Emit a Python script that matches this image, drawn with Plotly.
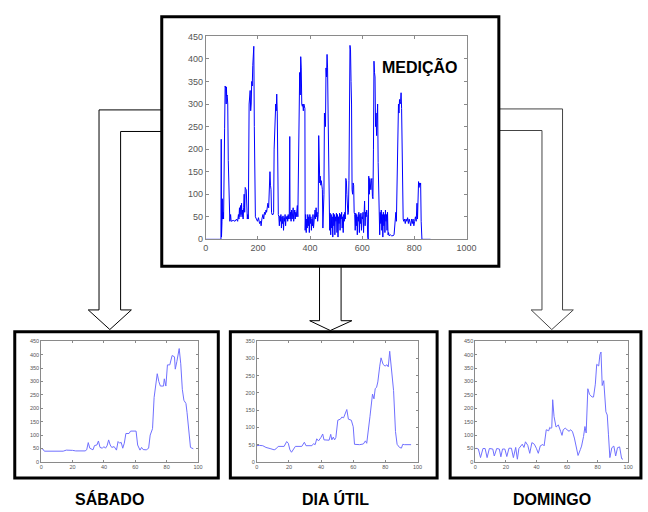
import plotly.graph_objects as go

# ---------------- data ----------------
main_x = [
    0, 58, 59, 60, 61, 62, 63, 64, 66, 68,
    70, 72, 74, 76, 78, 79, 80, 82, 84, 86,
    88, 90, 92, 95, 97, 105, 112, 118, 122, 125,
    127, 129, 131, 133, 135, 137, 139, 141, 143, 145,
    147, 149, 151, 153, 155, 157, 159, 161, 163, 166,
    168, 170, 172, 174, 176, 178, 180, 182, 184, 186,
    188, 190, 194, 198, 202, 206, 210, 212, 215, 219,
    222, 225, 228, 231, 233, 235, 238, 241, 244, 246,
    248, 250, 252, 254, 258, 260, 262, 264, 266, 268,
    270, 272, 274, 276, 278, 280, 282, 284, 286, 288,
    290, 292, 294, 296, 298, 300, 302, 304, 306, 308,
    310, 312, 314, 316, 318, 320, 322, 323, 325, 327,
    329, 331, 333, 335, 337, 339, 341, 343, 345, 347,
    349, 351, 353, 356, 358, 360, 362, 364, 366, 368,
    370, 372, 374, 376, 378, 380, 381, 383, 385, 387,
    389, 391, 393, 395, 397, 399, 401, 403, 405, 407,
    409, 411, 413, 415, 417, 419, 421, 423, 425, 427,
    429, 431, 433, 435, 437, 439, 441, 443, 445, 447,
    449, 451, 453, 455, 457, 459, 461, 463, 465, 467,
    469, 471, 473, 475, 477, 479, 481, 483, 485, 487,
    489, 491, 493, 495, 497, 499, 501, 503, 505, 507,
    509, 511, 513, 515, 517, 519, 521, 523, 525, 527,
    529, 531, 533, 535, 537, 539, 541, 543, 545, 547,
    549, 551, 553, 555, 557, 559, 561, 563, 565, 567,
    569, 571, 573, 575, 577, 579, 581, 583, 585, 587,
    589, 591, 593, 595, 597, 599, 601, 603, 605, 607,
    609, 611, 613, 615, 617, 619, 621, 623, 625, 627,
    629, 631, 633, 635, 637, 639, 641, 643, 645, 647,
    649, 651, 653, 655, 657, 659, 661, 663, 665, 667,
    669, 671, 673, 675, 677, 679, 681, 683, 685, 687,
    689, 691, 693, 695, 697, 699, 701, 703, 708, 712,
    718, 722, 725, 727, 729, 731, 733, 735, 737, 739,
    741, 743, 745, 747, 749, 751, 753, 755, 757, 759,
    762, 765, 768, 771, 774, 777, 780, 783, 786, 789,
    792, 795, 798, 801, 804, 807, 810, 812, 814, 816,
    818, 820, 822, 824, 826, 829, 862,
]
main_y = [
    0, 0, 222, 5, 125, 40, 90, 45, 60, 45,
    240, 245, 340, 335, 300, 338, 318, 320, 300, 175,
    120, 50, 40, 55, 40, 42, 40, 45, 40, 55,
    45, 70, 50, 75, 55, 80, 50, 65, 45, 70,
    100, 60, 115, 112, 110, 50, 45, 55, 45, 300,
    320, 330, 285, 300, 350, 340, 385, 414, 428, 250,
    120, 50, 45, 40, 48, 35, 40, 30, 45, 55,
    45, 60, 55, 65, 60, 75, 80, 70, 140, 150,
    120, 110, 60, 55, 55, 60, 200, 260, 295, 300,
    285, 322, 280, 120, 55, 50, 30, 52, 40, 55,
    25, 50, 35, 52, 20, 48, 40, 55, 30, 50,
    45, 52, 40, 55, 45, 50, 228, 45, 60, 40,
    65, 45, 55, 70, 40, 55, 65, 45, 60, 50,
    72, 75, 50, 180, 360, 370, 320, 405, 380, 300,
    295, 300, 285, 300, 295, 290, 20, 55, 15, 45,
    25, 55, 30, 50, 15, 55, 35, 50, 20, 45,
    30, 55, 25, 50, 40, 65, 45, 70, 50, 60,
    40, 55, 230, 130, 125, 140, 120, 130, 115, 110,
    25, 60, 100, 280, 260, 250, 380, 360, 410, 380,
    280, 120, 55, 20, 58, 10, 55, 25, 50, 5,
    58, 30, 55, 10, 50, 40, 58, 15, 55, 5,
    50, 35, 58, 20, 55, 45, 60, 25, 50, 15,
    55, 40, 60, 45, 135, 130, 100, 80, 55, 60,
    130, 250, 430, 420, 350, 300, 110, 100, 125, 120,
    60, 55, 20, 58, 30, 55, 10, 50, 40, 60,
    15, 55, 35, 58, 20, 50, 45, 60, 15, 55,
    85, 30, 60, 50, 65, 55, 5, 0, 140, 100,
    135, 120, 110, 130, 135, 95, 90, 200, 395, 370,
    360, 250, 280, 230, 260, 300, 170, 100, 60, 10,
    60, 35, 65, 20, 55, 5, 60, 30, 55, 15,
    65, 40, 55, 20, 60, 10, 15, 8, 10, 8,
    8, 10, 45, 55, 60, 40, 140, 200, 250, 300,
    280, 310, 300, 305, 325, 290, 200, 60, 45, 40,
    45, 35, 45, 40, 48, 35, 45, 38, 30, 45,
    35, 45, 30, 40, 50, 40, 80, 45, 120, 128,
    115, 125, 120, 125, 40, 0, 0,
]

sab_x = [0, 1, 2, 3, 6, 10, 14, 16, 18, 20, 22, 24, 26, 28, 29, 30, 31, 33, 34, 35.5,
         36.5, 37.5, 39, 40, 41, 42, 43, 44, 45, 46.5, 48, 49, 50, 51, 52, 53, 54, 56, 57, 60.5,
         61.5, 62.3, 63, 64, 65, 67, 68.5, 69.5, 71, 72, 73, 74, 75, 76, 78, 78.5, 79.5, 80.5, 82, 83.5,
         85, 85.5, 86.5, 88, 89, 90, 91, 92.3, 93, 94.4, 95.2, 97]
sab_y = [50, 48, 40, 40, 40, 40, 40, 44, 44, 43, 41, 41, 41, 41, 45, 72, 51, 45, 61, 63,
         78, 54, 51, 57, 51, 60, 82, 63, 54, 57, 44, 76, 70, 73, 51, 70, 106, 106, 115, 115,
         63, 49, 44, 54, 46, 45, 51, 100, 124, 240, 295, 329, 300, 283, 283, 310, 283, 362, 362, 397,
         392, 346, 374, 423, 366, 271, 230, 218, 185, 88, 54, 49]

du_x = [0, 1.6, 3.7, 5.7, 8.8, 10.8, 12, 13.3, 17, 18.6,
        19.6, 20.6, 21.6, 22.7, 24, 28, 29.6, 30.6, 34.3, 35.3,
        36.3, 37.3, 38.4, 39.8, 41, 41.8, 43.5, 45, 46, 46.7,
        47.6, 48.4, 49.2, 50.4, 52, 52.9, 54, 55, 56, 57,
        58.8, 60, 60.8, 64, 66.3, 67.6, 68.4, 70.4, 72, 72.9,
        73.7, 74.5, 75.3, 76.5, 77.3, 78.6, 79.8, 81, 81.8, 82.7,
        83.5, 84.3, 85.1, 86.3, 87.3, 88.8, 90, 90.8, 92, 96]
du_y = [47, 48, 47, 42, 38, 35, 38, 45, 45, 59,
        54, 35, 28, 35, 45, 45, 57, 47, 47, 53,
        50, 67, 61, 70, 81, 64, 63, 63, 80, 64,
        72, 64, 71, 121, 124, 130, 128, 140, 152, 124,
        121, 102, 51, 50, 52, 61, 54, 131, 197, 183,
        213, 216, 232, 278, 302, 283, 278, 282, 276, 321,
        288, 245, 207, 88, 51, 42, 40, 51, 50, 50]

dom_x = [0.6, 2, 3.4, 5, 6.4, 7.7, 9.2, 11.4, 12.4, 14,
         15.7, 16.7, 17.8, 19.3, 20.6, 22, 23.6, 24.9, 26.4, 27.5,
         28.5, 29.6, 30.7, 31.8, 32.8, 34.3, 35.6, 37, 38.6, 39.9,
         41.2, 42.5, 44.2, 45, 46.4, 48, 48.7, 49.4, 50, 50.6,
         51.5, 52.8, 54.3, 55.8, 56.7, 57.5, 58.8, 60, 61.4, 62.2,
         63.5, 64.8, 66, 67.2, 68.7, 69.5, 70.8, 71.7, 72.5, 73.6,
         74.7, 76.4, 77.3, 78.5, 79.4, 80.7, 81.5, 82.2, 83, 84,
         85.4, 86.3, 87.1, 88, 89.3, 90.6, 91.8, 93, 94.4, 95.7, 96.6]
dom_y = [51, 48, 16, 50, 50, 16, 50, 48, 22, 50,
         48, 19, 48, 48, 20, 51, 51, 16, 54, 10,
         50, 60, 66, 54, 75, 62, 32, 72, 66, 51,
         32, 60, 65, 60, 120, 116, 129, 125, 127, 232,
         169, 130, 138, 114, 99, 120, 126, 120, 114, 120,
         114, 89, 53, 24, 46, 59, 95, 132, 108, 273,
         252, 242, 242, 290, 364, 358, 400, 410, 285, 303,
         187, 175, 101, 16, 53, 59, 22, 53, 56, 12, 10]

main_label = "MEDIÇÃO"
panel_labels = ["SÁBADO", "DIA ÚTIL", "DOMINGO"]
main_xticks = [0, 200, 400, 600, 800, 1000]
main_yticks = [0, 50, 100, 150, 200, 250, 300, 350, 400, 450]
small_xticks = [0, 20, 40, 60, 80, 100]
small_yticks_450 = [0, 50, 100, 150, 200, 250, 300, 350, 400, 450]
small_yticks_350 = [0, 50, 100, 150, 200, 250, 300, 350]

# ---------------- layout helpers ----------------
W, H = 648, 512


def P(x):
    return x / W


def Q(y):
    return 1 - y / H


FONT = "Liberation Sans, Arial, Helvetica, sans-serif"
AX_COL = "#8a8a8a"
TICK_COL = "#555555"

fig = go.Figure()

fig.add_trace(go.Scatter(x=main_x, y=main_y, mode="lines",
                         line=dict(color="#0000ff", width=1),
                         xaxis="x", yaxis="y", hoverinfo="skip"))
fig.add_trace(go.Scatter(x=sab_x, y=sab_y, mode="lines",
                         line=dict(color="#7070ff", width=1),
                         xaxis="x2", yaxis="y2", hoverinfo="skip"))
fig.add_trace(go.Scatter(x=du_x, y=du_y, mode="lines",
                         line=dict(color="#7070ff", width=1),
                         xaxis="x3", yaxis="y3", hoverinfo="skip"))
fig.add_trace(go.Scatter(x=dom_x, y=dom_y, mode="lines",
                         line=dict(color="#7070ff", width=1),
                         xaxis="x4", yaxis="y4", hoverinfo="skip"))


def axis(domain, rng, ticks, anchor, size, ticklen):
    return dict(domain=domain, range=rng, tickvals=ticks, anchor=anchor,
                showline=True, linecolor=AX_COL, linewidth=1, mirror="ticks",
                ticks="inside", ticklen=ticklen, tickcolor=AX_COL, tickwidth=1,
                showgrid=False, zeroline=False, fixedrange=True,
                tickfont=dict(family=FONT, size=size, color=TICK_COL))


main_xd = [P(207), P(473)]
main_yd = [Q(239), Q(32)]
sy = [Q(466), Q(343)]

fig.update_layout(
    width=W, height=H, margin=dict(l=0, r=0, t=0, b=0),
    paper_bgcolor="white", plot_bgcolor="white", showlegend=False,
    xaxis=axis(main_xd, [0, 1000], main_xticks, "y", 9, 3),
    yaxis=axis(main_yd, [0, 450], main_yticks, "x", 9, 3),
    xaxis2=axis([P(39), P(199)], [0, 100], small_xticks, "y2", 5.5, 2),
    yaxis2=axis(sy, [0, 450], small_yticks_450, "x2", 5.5, 2),
    xaxis3=axis([P(259), P(423)], [0, 100], small_xticks, "y3", 5.5, 2),
    yaxis3=axis(sy, [0, 350], small_yticks_350, "x3", 5.5, 2),
    xaxis4=axis([P(482), P(638)], [0, 100], small_xticks, "y4", 5.5, 2),
    yaxis4=axis(sy, [0, 450], small_yticks_450, "x4", 5.5, 2),
)

shapes = []


def rect(x0, y0, x1, y1):
    shapes.append(dict(type="rect", xref="paper", yref="paper",
                       x0=P(x0), x1=P(x1), y0=Q(y1), y1=Q(y0),
                       line=dict(color="black", width=3), layer="above"))


def path(points, color="black"):
    d = "M " + " L ".join(f"{P(x):.5f},{Q(y):.5f}" for x, y in points)
    shapes.append(dict(type="path", xref="paper", yref="paper", path=d,
                       line=dict(color=color, width=1), layer="above"))


# arrows
path([(162, 107), (98, 107), (98, 311), (87, 311), (109, 331), (131, 311),
      (120, 311), (120, 129), (162, 129)])
path([(323, 267), (323, 322), (313, 322), (334, 332), (356, 322), (345, 322),
      (345, 267)])
path([(506, 106), (571, 106), (571, 311), (582, 311), (560, 331), (539, 311),
      (550, 311), (550, 128), (506, 128)], color="#444444")

# frames
rect(162, 12, 506, 266.5)
rect(12, 333.3, 219.7, 482.5)
rect(232, 333.3, 443, 482.5)
rect(456.3, 333.3, 651, 482.5)

fig.update_layout(shapes=shapes)

annots = [dict(x=P(425.5), y=Q(63), text=f"<b>{main_label}</b>")]
for cx, lab in zip([108.5, 339.5, 560], panel_labels):
    annots.append(dict(x=P(cx), y=Q(504), text=f"<b>{lab}</b>"))
for a in annots:
    a.update(xref="paper", yref="paper", showarrow=False,
             xanchor="center", yanchor="middle",
             font=dict(family=FONT, size=16, color="black"))
fig.update_layout(annotations=annots)

fig.write_html("out.html",
               config={"displayModeBar": False, "staticPlot": True},
               post_script="document.body.style.margin='0px';"
                           "document.body.style.padding='0px';"
                           "document.body.style.overflow='hidden';")
